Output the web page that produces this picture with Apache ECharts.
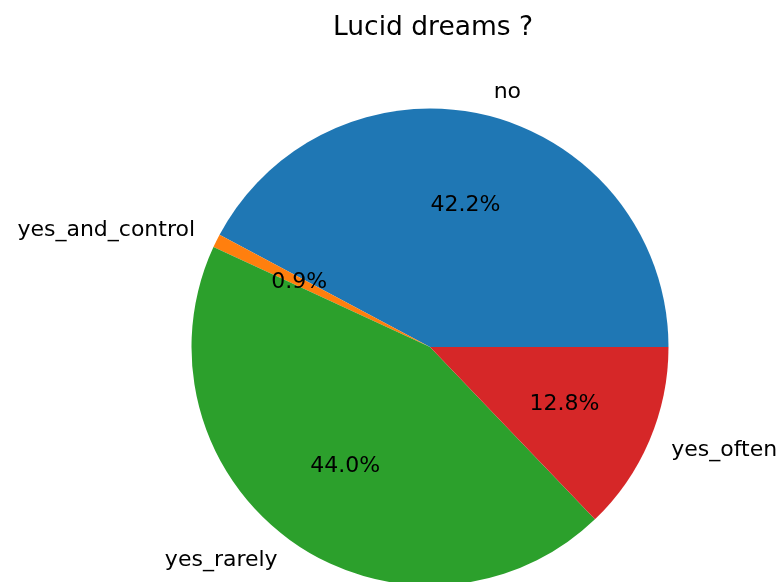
<!DOCTYPE html>
<html>
<head>
<meta charset="utf-8">
<script src="https://cdn.jsdelivr.net/npm/echarts@6/dist/echarts.min.js"></script>
<style>html,body{margin:0;padding:0;background:#fff;}#chart{width:780px;height:582px;}</style>
</head>
<body>
<div id="chart"></div>
<script>
var titleText = 'Lucid dreams ?';
var categories = ['no', 'yes_and_control', 'yes_rarely', 'yes_often'];
var counts = [46, 1, 48, 14];
var colors = ['#1f77b4', '#ff7f0e', '#2ca02c', '#d62728'];

var total = counts.reduce(function (a, b) { return a + b; }, 0);
var R = 238.5;
var CX = 430, CY = 347;
var FONT = 'DejaVu Sans';

var data = categories.map(function (c, i) {
  return { name: c, value: counts[i], itemStyle: { color: colors[i] } };
});
var data2 = categories.map(function (c, i) {
  return { name: c, value: counts[i] };
});

var chart = echarts.init(document.getElementById('chart'), null, { renderer: 'canvas' });
chart.setOption({
  animation: false,
  backgroundColor: '#ffffff',
  title: {
    text: titleText,
    left: 328,
    top: 10,
    textStyle: { fontFamily: FONT, fontSize: 26.5, fontWeight: 'normal', color: '#000' }
  },
  series: [
    {
      type: 'pie',
      center: [CX, CY],
      radius: [0, R],
      startAngle: 0,
      clockwise: false,
      avoidLabelOverlap: false,
      silent: true,
      emphasis: { disabled: true, scale: false },
      data: data,
      itemStyle: { borderWidth: 0 },
      label: {
        show: true,
        position: 'outside',
        formatter: '{b}',
        fontFamily: FONT,
        fontSize: 22,
        color: '#000',
        distanceToLabelLine: 0,
        alignTo: 'none'
      },
      labelLine: { show: false, length: 0.1 * R, length2: 0 }
    },
    {
      type: 'pie',
      center: [CX, CY],
      radius: [0.2 * R, R],
      startAngle: 0,
      clockwise: false,
      avoidLabelOverlap: false,
      silent: true,
      emphasis: { disabled: true, scale: false },
      data: data2,
      itemStyle: { color: 'rgba(0,0,0,0)', borderWidth: 0 },
      label: {
        show: true,
        position: 'inside',
        formatter: function (p) { return (p.value / total * 100).toFixed(1) + '%'; },
        fontFamily: FONT,
        fontSize: 22,
        color: '#000'
      },
      labelLine: { show: false }
    }
  ]
});
</script>
</body>
</html>
